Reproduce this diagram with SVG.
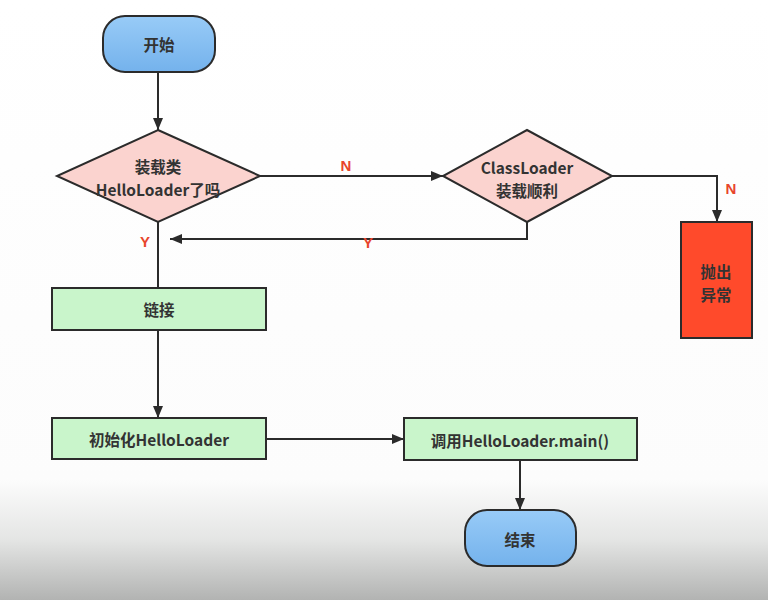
<svg xmlns="http://www.w3.org/2000/svg" width="768" height="600" viewBox="0 0 768 600">
<defs>
<linearGradient id="bg" x1="0" y1="0" x2="0" y2="1">
<stop offset="0" stop-color="#ffffff"/>
<stop offset="0.8" stop-color="#fcfcfc"/>
<stop offset="0.9" stop-color="#e4e5e4"/>
<stop offset="1" stop-color="#b2b3b2"/>
</linearGradient>
<linearGradient id="blue" x1="0" y1="0" x2="0" y2="1">
<stop offset="0" stop-color="#98cbf7"/>
<stop offset="1" stop-color="#74b2ec"/>
</linearGradient>
<marker id="ah" viewBox="0 0 12 10" refX="12" refY="5" markerWidth="12" markerHeight="10" markerUnits="userSpaceOnUse" orient="auto">
<path d="M0,0 L12,5 L0,10 Z" fill="#2b2b2b"/>
</marker>
<style>
.t{font-family:"Noto Sans CJK SC","Liberation Sans",sans-serif;font-size:15.5px;font-weight:bold;fill:#333;text-anchor:middle;dominant-baseline:central}
.lbl{font-family:"Liberation Sans",sans-serif;font-size:15px;font-weight:bold;fill:#e8452c;text-anchor:middle;dominant-baseline:central}
.ln{fill:none;stroke:#2b2b2b;stroke-width:2}
.node{stroke:#2b2b2b;stroke-width:2}
</style>
</defs>
<rect x="0" y="0" width="768" height="600" fill="url(#bg)"/>
<g id="connectors">
<path class="ln" d="M158,72 V130" marker-end="url(#ah)"/>
<path class="ln" d="M260,176 H443" marker-end="url(#ah)"/>
<path class="ln" d="M612,176 H717 V222" marker-end="url(#ah)"/>
<path class="ln" d="M527,222 V239 H170" marker-end="url(#ah)"/>
<path class="ln" d="M158,222 V288" />
<path class="ln" d="M158,330 V418" marker-end="url(#ah)"/>
<path class="ln" d="M266,439 H404" marker-end="url(#ah)"/>
<path class="ln" d="M520,460 V510" marker-end="url(#ah)"/>
<text class="lbl" x="346" y="165">N</text>
<text class="lbl" x="731" y="188">N</text>
<text class="lbl" x="368" y="242">Y</text>
<text class="lbl" x="145" y="241">Y</text>
</g>
<g id="start">
<rect class="node" x="103" y="16" width="112" height="56" rx="22" fill="url(#blue)"/>
<text class="t" x="159" y="44">开始</text>
</g>
<g id="loaded">
<polygon class="node" points="158,130 260,176 158,222 57,176" fill="#fbd3cf"/>
<text class="t" x="158" y="166">装载类</text>
<text class="t" x="158" y="189">HelloLoader了吗</text>
</g>
<g id="classloader">
<polygon class="node" points="527,130 612,176 527,222 443,176" fill="#fbd3cf"/>
<text class="t" x="527" y="167">ClassLoader</text>
<text class="t" x="527" y="190">装载顺利</text>
</g>
<g id="throw">
<rect class="node" x="681" y="222" width="71" height="116" fill="#ff4a2b"/>
<text class="t" x="716" y="271">抛出</text>
<text class="t" x="716" y="294">异常</text>
</g>
<g id="link">
<rect class="node" x="52" y="288" width="214" height="42" fill="#c9f5cb"/>
<text class="t" x="159" y="309">链接</text>
</g>
<g id="init">
<rect class="node" x="52" y="418" width="214" height="41" fill="#c9f5cb"/>
<text class="t" x="159" y="439">初始化HelloLoader</text>
</g>
<g id="callmain">
<rect class="node" x="404" y="418" width="233" height="42" fill="#c9f5cb"/>
<text class="t" x="520" y="440">调用HelloLoader.main()</text>
</g>
<g id="end">
<rect class="node" x="465" y="510" width="111" height="56" rx="22" fill="url(#blue)"/>
<text class="t" x="520" y="539">结束</text>
</g>
</svg>
